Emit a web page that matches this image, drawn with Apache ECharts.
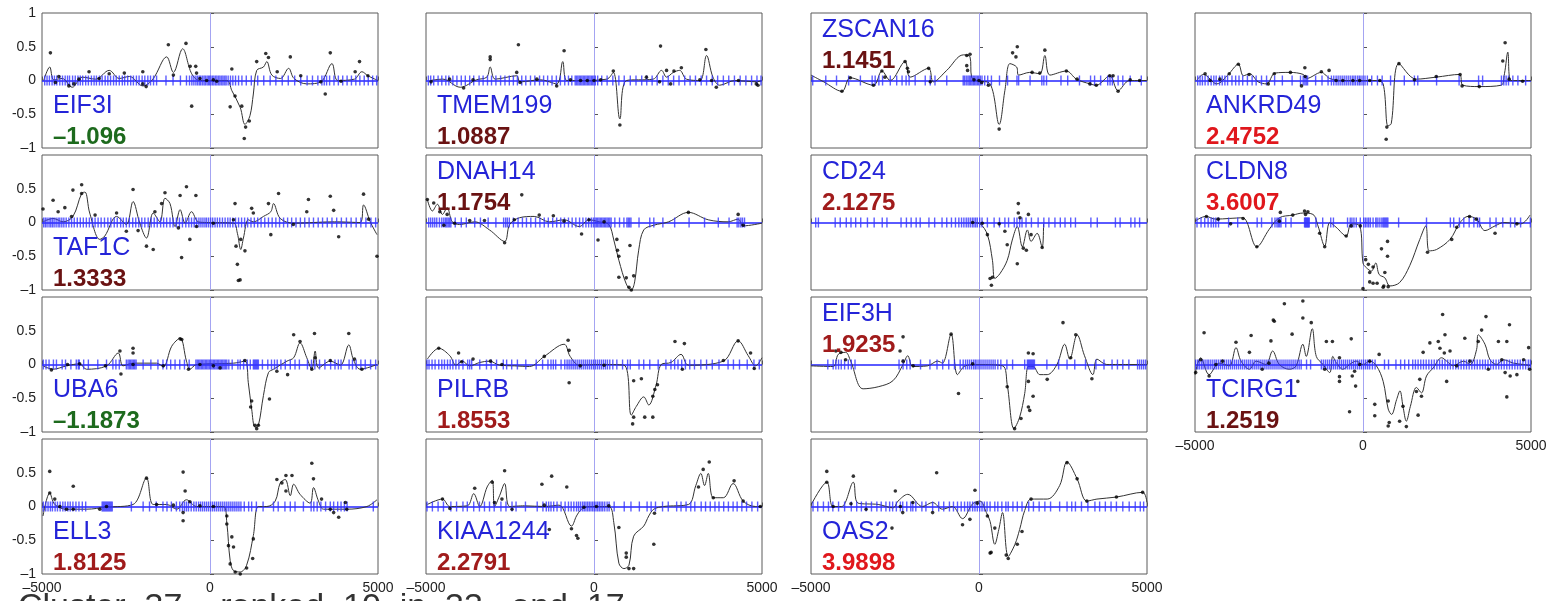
<!DOCTYPE html>
<html>
<head>
<meta charset="utf-8">
<script src="https://cdn.jsdelivr.net/npm/echarts@6/dist/echarts.min.js"></script>
<style>
  html, body { margin: 0; padding: 0; background: #fff; }
  #main { width: 1567px; height: 601px; }
</style>
</head>
<body>
<div id="main"></div>
<script>
// ---- data (x = distance in bp, y = score) ----
var xTicks = [-5000, 0, 5000];
var yTicks = [-1, -0.5, 0, 0.5, 1];

var eif3iDots = [[-4750,0.41],[-4600,-0.03],[-4500,0.06],[-4200,-0.08],[-4050,-0.05],[-3900,0.02],[-3600,0.13],[-3300,0.03],[-3000,0.1],[-2550,0.11],[-2000,0.13],[-2000,-0.05],[-1900,-0.09],[-1240,0.53],[-1090,0.08],[-715,0.55],[-545,-0.38],[-590,0.21],[-425,0.21],[-400,0.11],[-300,0.03],[-100,0],[100,0.01],[200,-0.01],[600,-0.39],[650,0.17],[745,-0.23],[945,-0.38],[1020,-0.86],[1060,-0.69],[1170,-0.6],[1390,0.28],[1660,0.4],[1740,0.34],[2000,0.13],[2390,0.35],[2700,0.07],[3300,-0.02],[3430,-0.2],[3580,0.41],[3900,-0.01],[4320,0.13],[4450,0.28],[4700,0.07]];
var eif3iCurve = [[-4950,0],[-4770,0.2],[-4650,0.01],[-4400,0.03],[-4100,-0.1],[-3800,0.05],[-3400,0.02],[-3000,0.15],[-2700,0.03],[-2400,0.06],[-2000,-0.08],[-1700,0.02],[-1290,0.35],[-1090,0.12],[-815,0.47],[-545,0.1],[-300,0],[500,0],[650,-0.15],[900,-0.4],[1040,-0.65],[1190,-0.52],[1290,-0.2],[1390,0.15],[1590,0.2],[1690,0.28],[1840,0.08],[2100,0.03],[2340,0.18],[2500,0.03],[2880,-0.05],[3300,-0.02],[3630,0.25],[3800,0],[4300,0.02],[4520,0.13],[4700,0.07],[5000,0]];
var eif3iRug = [-4920,-4850,-4780,-4700,-4630,-4560,-4470,-4390,-4310,-4240,-4180,-4090,-4010,-3930,-3860,-3790,-3700,-3620,-3530,-3450,-3380,-3290,-3210,-3120,-3040,-2960,-2870,-2790,-2700,-2610,-2540,-2450,-2360,-2280,-2190,-2110,-2020,-1940,-1850,-1770,-1680,-1590,-1310,-1100,-880,-700,-610,-540,-480,-420,-370,-320,-280,-230,-180,-140,-90,-50,-10,30,80,120,170,210,260,300,350,390,440,480,540,610,680,760,850,950,1080,1230,1420,1600,1790,1960,2150,2330,2520,2700,2890,3050,3210,3330,3400,3470,3560,3690,3820,3950,4080,4210,4340,4460,4590,4710,4840,4960];

var tmem199Dots = [[-4850,-0.02],[-4300,0.02],[-3880,-0.11],[-3600,0.01],[-3090,0.35],[-3090,0.31],[-2250,0.53],[-2300,0.12],[-2200,-0.03],[-1700,0.02],[-1110,-0.08],[-890,0.44],[-700,0.01],[-400,0],[-200,0],[0,0],[200,0.01],[575,0.14],[770,-0.66],[1560,0.05],[1980,0.51],[1950,-0.02],[2160,0.15],[2280,-0.05],[2380,0.14],[2600,0.19],[3150,0.01],[3330,0.46],[3500,0],[3640,-0.1],[4300,0],[4830,-0.05],[4880,-0.07]];
var tmem199Curve = [[-4870,0],[-4500,0.02],[-3980,-0.1],[-3500,0.01],[-3190,0.05],[-3090,0.2],[-2940,0.02],[-2300,0.07],[-2200,-0.02],[-1600,0.01],[-1110,-0.05],[-930,0.28],[-810,0],[-400,0],[380,0.02],[575,0.12],[770,-0.57],[970,0],[1760,0.02],[2010,0.15],[2160,0.05],[2360,0.12],[2550,0.15],[2750,0.02],[3150,0],[3350,0.37],[3540,0.05],[3740,-0.07],[4200,0],[4830,-0.02],[5000,0]];
var tmem199Rug = [-4930,-4860,-4770,-4640,-4530,-4410,-4320,-4200,-4080,-3950,-3830,-3700,-3580,-3420,-3300,-3170,-3050,-2920,-2780,-2650,-2520,-2400,-2280,-2150,-2030,-1890,-1760,-1620,-1500,-1380,-1250,-1120,-1000,-870,-760,-660,-560,-520,-480,-440,-400,-360,-320,-280,-240,-200,-160,-120,-80,-40,0,40,110,230,390,560,740,900,1080,1250,1420,1570,1730,1880,2050,2210,2370,2530,2700,2860,3020,3190,3350,3520,3680,3850,4010,4180,4350,4520,4690,4850,4970];

var zscan16Dots = [[-4080,-0.16],[-3830,0.04],[-3140,-0.07],[-2890,0.14],[-2800,0.05],[-2200,0.28],[-2130,0.18],[-2100,0.13],[-1500,0.18],[-1450,-0.02],[-365,0.37],[-267,0.39],[-365,0.22],[-340,0.15],[-150,0.01],[0,0],[80,-0.03],[280,-0.07],[600,-0.72],[1000,0.41],[1140,0.5],[1100,0.35],[1580,0.12],[1960,0.45],[1810,0.11],[2600,0.14],[2920,0.02],[3300,-0.05],[3490,-0.07],[3890,0.07],[3990,0.07],[4140,-0.16],[4500,0.01],[4780,0]];
var zscan16Curve = [[-5000,0.08],[-4620,-0.02],[-4080,-0.16],[-3830,0.04],[-3140,-0.07],[-2890,0.14],[-2640,0],[-2200,0.28],[-2050,0.05],[-1500,0.18],[-1360,-0.02],[-960,0.15],[-465,0.38],[-267,0.35],[-220,0.05],[-70,0],[330,-0.05],[600,-0.65],[770,-0.15],[920,0.25],[1120,0.2],[1180,0.08],[1510,0.12],[1810,0.1],[1960,0.37],[2110,0.08],[2600,0.14],[2900,0.02],[3300,-0.05],[3490,-0.07],[3890,0.07],[4140,-0.15],[4480,0],[5000,0]];
var zscan16Rug = [-4950,-4560,-4240,-3880,-3530,-3180,-3090,-2980,-2870,-2640,-2450,-2290,-2170,-2080,-1900,-1600,-1450,-1310,-960,-470,-430,-380,-330,-290,-250,-210,-170,-130,-90,-50,-10,40,90,170,260,370,610,850,1130,1180,1520,1870,1930,2010,2440,2640,2990,3320,3440,3620,3830,3900,3970,4140,4280,4500,4830];

var ankrd49Dots = [[-4700,0.1],[-4550,0],[-4260,0.02],[-3980,0.1],[-3710,0.24],[-3390,0.09],[-2820,-0.05],[-2640,0.1],[-2160,0.12],[-1830,-0.08],[-1730,0.19],[-1720,0.06],[-1240,0.13],[-1010,0.15],[-800,0],[-600,0],[-300,0],[-100,0],[200,0],[500,0],[710,-0.69],[690,-0.87],[1070,0.25],[1530,0.01],[2180,0.06],[2890,0.09],[2950,-0.08],[3460,-0.09],[4160,0.29],[4230,0.56],[4350,0.02],[4750,-0.01]];
var ankrd49Curve = [[-4950,0],[-4750,0.09],[-4350,-0.05],[-4010,0.09],[-3710,0.24],[-3560,0.07],[-3370,0.1],[-3120,-0.02],[-2870,-0.05],[-2620,0.11],[-2180,0.12],[-1780,0.09],[-1680,0.03],[-1240,0.12],[-990,0.03],[-600,0],[400,0],[600,-0.05],[740,-0.67],[840,-0.64],[1070,0.25],[1580,0.02],[2180,0.05],[2870,0.09],[2970,-0.07],[3460,-0.09],[4110,-0.07],[4210,0.1],[4310,0.42],[4400,0],[5000,0]];
var ankrd49Rug = [-4920,-4850,-4780,-4700,-4610,-4520,-4440,-4370,-4270,-4190,-4110,-4030,-3900,-3790,-3690,-3580,-3440,-3300,-3180,-3020,-2870,-2630,-2400,-2110,-1860,-1780,-1730,-1690,-1650,-1410,-1220,-1040,-940,-870,-800,-740,-680,-620,-560,-500,-440,-380,-320,-270,-220,-160,-110,-60,0,60,130,260,430,570,820,1230,1530,1630,2190,2860,3440,3560,4120,4190,4260,4330,4460,4610,4840];

var taf1cDots = [[-4970,0.2],[-4670,0.33],[-4520,0.16],[-4320,0.22],[-4120,0.09],[-4080,0.48],[-3820,0.56],[-3820,0.43],[-3420,0.11],[-2780,0.14],[-2490,-0.13],[-2290,0.49],[-2140,-0.12],[-1890,-0.35],[-1690,-0.4],[-1640,0.16],[-1440,0.28],[-1340,0.44],[-890,0.4],[-940,-0.08],[-845,-0.52],[-700,0.53],[-600,-0.25],[-420,0.4],[-400,-0.06],[100,-0.01],[700,0.04],[745,0.28],[775,-0.35],[845,-0.86],[895,-0.85],[815,-0.62],[915,-0.25],[1040,-0.42],[1240,0.21],[1290,0.14],[1740,0.28],[1810,-0.18],[2040,0.43],[2480,-0.03],[2880,0.16],[2930,0.34],[3580,0.39],[3680,0.18],[3830,-0.21],[4570,0.42],[4720,0.05],[4970,-0.5]];
var taf1cCurve = [[-4970,0.01],[-4670,0.06],[-4370,0.01],[-4080,0.09],[-3820,0.43],[-3720,0.45],[-3580,0.14],[-3280,-0.25],[-3130,-0.2],[-2780,0.09],[-2490,-0.03],[-2290,0.31],[-2090,-0.01],[-1890,-0.23],[-1690,0.14],[-1490,0.01],[-1340,0.36],[-1190,0.28],[-1040,-0.06],[-890,0.19],[-740,-0.01],[-550,0.16],[-350,0.01],[-100,0],[700,-0.01],[815,-0.16],[915,-0.4],[995,-0.23],[1140,0.04],[1290,0.01],[1590,0.09],[1810,0.16],[1890,0.28],[2090,0.06],[2490,-0.01],[3700,0.01],[4470,0],[4570,0.26],[4770,0.01],[4970,-0.18]];
var taf1cRug = [-4950,-4900,-4850,-4790,-4740,-4690,-4640,-4580,-4520,-4470,-4410,-4350,-4280,-4200,-4120,-4040,-3950,-3860,-3770,-3680,-3590,-3500,-3420,-3330,-3240,-3140,-3040,-2950,-2850,-2760,-2660,-2580,-2490,-2400,-2300,-2210,-2120,-2030,-1940,-1840,-1750,-1660,-1570,-1470,-1380,-1290,-1190,-1100,-1000,-910,-820,-720,-630,-550,-470,-400,-330,-270,-210,-150,-100,-40,20,80,150,220,290,370,450,530,600,680,760,850,940,1030,1120,1220,1320,1420,1520,1630,1740,1850,1960,2070,2190,2310,2430,2560,2690,2820,2950,3080,3220,3350,3490,3630,3770,3910,4060,4200,4350,4490,4640,4790,4930];

var dnah14Dots = [[-4960,0.34],[-4770,0.29],[-4590,0.16],[-4470,-0.04],[-4370,0.12],[-4150,-0.01],[-3700,0.03],[-3260,0.03],[-2660,-0.3],[-2370,0.04],[-2150,0.41],[-1630,0.11],[-1210,0.1],[-890,0.02],[-370,-0.17],[-150,0.04],[120,-0.26],[300,0.01],[680,-0.25],[700,-0.41],[740,-0.5],[740,-0.81],[960,-0.82],[1070,-0.34],[1040,-0.96],[1180,-0.79],[1110,-1],[2810,0.15],[4290,0.12],[4440,-0.04]];
var dnah14Curve = [[-4960,0.34],[-4810,0.17],[-4660,0.27],[-4510,0.12],[-4370,0.22],[-4220,0.01],[-4000,-0.03],[-3550,0.01],[-3110,-0.11],[-2660,-0.28],[-2510,-0.03],[-2220,0.07],[-1780,0.09],[-1330,0.01],[-890,0.04],[-440,-0.06],[-150,0.04],[150,0.01],[440,-0.03],[590,-0.26],[740,-0.56],[960,-0.91],[1110,-1],[1210,-0.88],[1330,-0.41],[1480,-0.11],[1780,-0.04],[2220,0.01],[2810,0.15],[3400,0.04],[3990,0.01],[4290,0.05],[4440,-0.05],[5000,-0.01]];
var dnah14Rug = [-4920,-4860,-4800,-4740,-4680,-4600,-4530,-4470,-4420,-4380,-4340,-4300,-4260,-4130,-3950,-3800,-3550,-3380,-3150,-2920,-2690,-2630,-2580,-2520,-2400,-2260,-2130,-2010,-1880,-1740,-1610,-1480,-1360,-1230,-1110,-990,-880,-760,-650,-540,-430,-330,-240,-160,-80,-20,30,70,110,150,190,230,270,310,350,390,430,470,510,620,760,890,980,1020,1060,1100,1340,1660,1780,2050,2400,2830,3290,3700,4020,4260,4310,4370,4420,4480];

var cd24Dots = [[-190,0],[100,-0.01],[250,-0.18],[330,-0.83],[400,-0.81],[370,-0.93],[600,-0.02],[840,-0.33],[770,-0.13],[1140,-0.61],[1170,0.28],[1170,0.14],[1220,0.07],[1320,-0.38],[1410,-0.41],[1470,0.12],[1550,-0.18],[1880,-0.37]];
var cd24Curve = [[-190,0],[30,-0.02],[250,-0.18],[400,-0.56],[470,-0.83],[620,-0.76],[840,-0.56],[990,-0.26],[1140,-0.06],[1290,-0.36],[1440,-0.11],[1550,-0.28],[1730,-0.16],[1880,-0.37],[1920,-0.02]];
var cd24Rug = [-4860,-4780,-4280,-4130,-3950,-3810,-3670,-3520,-3320,-3120,-2880,-2740,-2320,-2160,-2020,-1870,-1750,-1490,-1320,-1100,-960,-820,-700,-600,-520,-450,-380,-320,-260,-200,-150,-100,-50,20,90,250,450,610,770,880,1050,1130,1210,1280,1400,1560,1760,1930,2080,2260,2420,2560,2730,2870,3330,3520,4060,4200,4520,4640,4780];

var cldn8Dots = [[-4660,0.09],[-4310,0.05],[-3940,-0.02],[-3570,0.06],[-3160,-0.36],[-2490,0.02],[-2460,0.15],[-2090,0.11],[-1740,0.17],[-1710,0.12],[-1640,0.16],[-1290,-0.16],[-1140,-0.36],[-500,-0.2],[-350,-0.05],[-80,-0.05],[80,-0.55],[160,-0.62],[300,-0.66],[200,-0.74],[200,-0.88],[550,-0.39],[730,-0.5],[730,-0.28],[650,-0.74],[420,-0.9],[620,-0.94],[750,-0.95],[600,-0.96],[300,-0.9],[0,-0.98],[1920,-0.44],[2640,-0.25],[2790,-0.07],[3170,0.09],[3370,0.05],[3930,-0.16],[4580,-0.02]];
var cldn8Curve = [[-5000,0.02],[-4680,0.09],[-4380,0.05],[-3980,0.06],[-3580,0.07],[-3160,-0.36],[-2790,-0.1],[-2490,0.07],[-2090,0.11],[-1790,0.14],[-1490,0.12],[-1340,-0.05],[-1140,-0.35],[-990,0],[-800,-0.07],[-500,-0.2],[-350,-0.02],[-100,-0.05],[0,-0.6],[100,-0.67],[250,-0.72],[380,-0.6],[480,-0.77],[650,-0.82],[800,-0.94],[1090,-0.89],[1390,-0.64],[1690,-0.25],[1870,-0.05],[1970,-0.42],[2190,-0.4],[2590,-0.25],[2890,0],[3130,0.09],[3380,0.05],[3630,-0.12],[3930,-0.05],[4200,0],[4700,-0.02],[4970,0.11]];
var cldn8Rug = [-4940,-4820,-4710,-4610,-4520,-4450,-4380,-4300,-4000,-3730,-3150,-3020,-2710,-2620,-2560,-2520,-2480,-2440,-2300,-2140,-1740,-1720,-1700,-1680,-1660,-1640,-1620,-1600,-1400,-1200,-960,-880,-460,-380,-330,-270,-200,-80,20,70,120,170,220,300,380,420,480,540,590,620,650,680,710,740,1060,1890,2600,2700,2870,3000,3160,3300,3410,3470,3780,3960,4160,4390,4520,4690,4980];

var uba6Dots = [[-4720,-0.08],[-4240,0],[-3880,0.01],[-3110,-0.02],[-2680,0.2],[-2650,-0.14],[-2290,0.24],[-2290,0.17],[-2290,0],[-1390,-0.02],[-890,0.38],[-840,0.37],[-640,-0.07],[-300,0],[100,-0.02],[300,-0.05],[1040,0.06],[1240,-0.54],[1210,-0.63],[1340,-0.9],[1390,-0.95],[1440,-0.9],[1770,-0.51],[1990,-0.1],[2310,-0.15],[2490,0.44],[2680,0.34],[3030,-0.07],[3110,0.46],[3130,0.1],[3580,0.06],[4130,0.46],[4300,0.08],[4520,-0.07]];
var uba6Curve = [[-4970,-0.02],[-4670,-0.07],[-4270,-0.02],[-3880,0.01],[-3680,-0.07],[-3080,-0.02],[-2730,0.17],[-2590,-0.02],[-2290,0.02],[-1590,0.02],[-1390,-0.03],[-1140,0.27],[-890,0.39],[-700,0.05],[-600,-0.07],[-400,0],[700,0.02],[1040,0.05],[1140,-0.27],[1240,-0.66],[1340,-0.93],[1440,-0.9],[1590,-0.46],[1740,-0.12],[1890,-0.07],[2290,0.05],[2490,0.1],[2680,0.32],[2880,0.1],[3030,-0.07],[3130,0.2],[3230,-0.05],[3580,0.05],[3880,-0.01],[4130,0.29],[4270,0.07],[4470,-0.07],[4970,0]];
var uba6Rug = [-4960,-4880,-4790,-4660,-4570,-4400,-4300,-4140,-3980,-3920,-3890,-3760,-3620,-3340,-3080,-2890,-2800,-2700,-2490,-2440,-2400,-2360,-2320,-2280,-2240,-2200,-1990,-1760,-1550,-1400,-1290,-1170,-1040,-900,-760,-620,-420,-380,-340,-300,-260,-220,-180,-140,-100,-60,-20,20,60,100,140,180,220,260,300,340,380,420,460,500,560,660,830,900,1000,1110,1200,1290,1320,1350,1380,1410,1440,1560,1720,1830,1920,2000,2110,2240,2390,2530,2660,2900,3020,3120,3260,3420,3590,3720,3820,3900,4140,4240,4350,4490,4620,4780,4930];

var pilrbDots = [[-4620,0.24],[-4030,0.17],[-3940,0.04],[-3600,0.08],[-3080,0.05],[-2740,0],[-1480,0.12],[-770,0.36],[-740,0.21],[-740,-0.27],[-410,-0.02],[300,-0.01],[1180,-0.24],[1410,-0.21],[1180,-0.78],[1150,-0.88],[1510,-0.78],[1750,-0.78],[1890,-0.3],[1810,-0.37],[1750,-0.47],[2410,0.34],[2690,0.31],[2630,-0.07],[3850,0.06],[4290,0.35],[4660,0.17],[4770,-0.06]];
var pilrbCurve = [[-4960,0.08],[-4620,0.24],[-4290,0.13],[-4110,-0.01],[-3920,0.05],[-3700,-0.02],[-3400,0.03],[-3110,0.05],[-2810,-0.01],[-2370,-0.02],[-1920,-0.03],[-1480,0.12],[-890,0.3],[-710,0.12],[-440,-0.01],[150,0],[890,-0.01],[1110,-0.75],[1260,-0.62],[1480,-0.48],[1630,-0.6],[1850,-0.3],[2000,0],[2290,0.03],[2590,0.15],[2810,-0.01],[3850,0.05],[4290,0.35],[4590,0.13],[4810,-0.02],[5000,0.1]];
var pilrbRug = [-4970,-4910,-4820,-4730,-4620,-4530,-4450,-4360,-4280,-4200,-4110,-4020,-3900,-3760,-3700,-3640,-3400,-3200,-3060,-2900,-2700,-2600,-2450,-2280,-2030,-1720,-1530,-1370,-1280,-1210,-1140,-980,-870,-800,-740,-680,-620,-560,-500,-440,-380,-320,-260,-200,-140,-80,-20,40,100,160,220,280,340,400,470,560,680,850,1000,1080,1340,1480,1660,1910,2140,2290,2400,2500,2610,2720,2850,2990,3180,3350,3520,3720,3990,4150,4330,4560,4760,4920];

var eif3hDots = [[-4260,0.2],[-4110,0.18],[-3970,0.07],[-2260,0.05],[-1960,-0.02],[-2260,0.41],[-2350,0.2],[-830,0.45],[-610,-0.43],[-190,0.01],[840,-0.33],[1060,-0.95],[1250,-0.8],[1470,0.17],[1610,0.16],[1470,-0.63],[1510,-0.68],[1610,-0.47],[1470,-0.25],[2030,-0.22],[2500,0.62],[2880,0.44],[2730,0.1],[3360,-0.21]];
var eif3hCurve = [[-5000,-0.02],[-4340,-0.03],[-4190,0.15],[-3970,0.18],[-3820,0.05],[-3450,-0.36],[-3000,-0.33],[-2560,-0.24],[-2260,0],[-2120,0.13],[-1970,-0.03],[-1530,-0.02],[-1230,0.05],[-1090,0.02],[-830,0.45],[-640,-0.15],[-410,-0.02],[0,0],[700,-0.02],[840,-0.3],[1040,-0.95],[1210,-0.78],[1360,-0.43],[1470,-0.03],[1610,-0.03],[1810,-0.15],[2030,-0.15],[2320,0],[2550,0.3],[2700,0.08],[2920,0.44],[3140,0.13],[3390,-0.15],[3510,0.08],[3800,0],[5000,0]];
var eif3hRug = [-4500,-4340,-4260,-4180,-4100,-4000,-3890,-3800,-3690,-2380,-2260,-2150,-2050,-1740,-1460,-1250,-1080,-900,-730,-560,-470,-400,-340,-280,-220,-160,-110,-60,0,60,120,180,240,300,360,420,480,560,650,830,1000,1360,1440,1470,1500,1530,1560,1590,1620,1650,2020,2370,2620,2850,3170,3480,3720,3960,4120,4280,4460,4720,4780,4840,4900,4960];

var tcirg1Dots = [[-4730,0.47],[-4980,-0.12],[-4830,0.07],[-4580,-0.17],[-4380,0],[-4180,0.05],[-3780,0.33],[-3380,0.18],[-3330,0.43],[-3000,-0.07],[-2800,0.02],[-2740,0.35],[-2670,0.66],[-2640,0.64],[-2340,0.9],[-2110,0.45],[-1940,-0.25],[-1790,0.94],[-1790,0.69],[-1540,0.62],[-1090,0.34],[-910,0.34],[-1140,-0.07],[-700,0.1],[-700,-0.18],[-700,-0.25],[-350,0.38],[-400,-0.7],[-250,-0.1],[-220,-0.32],[-320,-0.17],[-100,0],[200,0.05],[480,0.15],[350,-0.59],[350,-0.76],[750,-0.54],[780,-0.86],[750,-0.91],[1090,-0.84],[1290,-0.92],[1190,-0.62],[1590,-0.4],[1640,-0.75],[1690,-0.22],[1740,-0.47],[1790,0.18],[1990,0.32],[2240,0.34],[2290,0.24],[2370,0.74],[2440,0.44],[2420,0.17],[2490,-0.25],[2590,0.2],[2790,-0.02],[3030,0.39],[3180,0.05],[3430,0.34],[3530,0.51],[3660,0.71],[3730,-0.07],[4030,0.34],[4130,0.07],[4230,-0.12],[4280,0.34],[4280,-0.48],[4360,0.59],[4380,-0.17],[4580,-0.15],[4780,0.07],[4930,0.25],[4960,-0.07]];
var tcirg1Curve = [[-5000,-0.15],[-4830,0.1],[-4580,-0.15],[-4280,0.02],[-3980,-0.02],[-3780,0.25],[-3630,0.05],[-3380,-0.07],[-3180,0.05],[-2890,0],[-2690,0.2],[-2490,0],[-2190,-0.07],[-1990,-0.02],[-1790,0.3],[-1690,0.12],[-1510,0.53],[-1390,0.12],[-1190,0],[-990,-0.12],[-900,0.12],[-800,0.03],[-600,-0.07],[-400,0],[-200,0.05],[0,0],[200,0.05],[400,-0.02],[600,-0.25],[750,-0.66],[850,-0.74],[1000,-0.52],[1100,-0.39],[1190,-0.62],[1290,-0.84],[1410,-0.62],[1590,-0.34],[1740,-0.42],[1890,-0.17],[2090,-0.05],[2340,0.1],[2490,0.05],[2690,-0.02],[2990,0.05],[3190,0],[3380,0.22],[3430,0.44],[3630,0.3],[3780,0.07],[3980,0],[4180,0.07],[4480,0.02],[4780,0],[5000,-0.02]];
var tcirg1Rug = [-4980,-4920,-4870,-4810,-4760,-4700,-4640,-4590,-4530,-4470,-4410,-4360,-4300,-4240,-4180,-4120,-4060,-4000,-3940,-3880,-3820,-3760,-3700,-3640,-3580,-3520,-3460,-3400,-3340,-3280,-3220,-3160,-3100,-3040,-2980,-2920,-2860,-2800,-2740,-2680,-2620,-2560,-2500,-2440,-2380,-2320,-2260,-2200,-2140,-2080,-2020,-1960,-1900,-1840,-1680,-1560,-1240,-1180,-1120,-1060,-1000,-940,-880,-820,-760,-700,-640,-580,-520,-460,-400,-340,-280,-220,-160,-100,-40,20,80,140,200,280,360,640,760,980,1120,1240,1360,1480,1560,1640,1720,1800,1880,1960,2040,2120,2200,2280,2360,2440,2520,2600,2680,2760,2840,2920,3000,3080,3160,3240,3320,3400,3480,3560,3640,3720,3800,3880,3960,4040,4120,4200,4280,4360,4440,4520,4600,4680,4760,4840,4920,4980];

var ell3Dots = [[-4770,0.52],[-4770,0.2],[-4620,0.11],[-4470,0],[-4270,-0.04],[-4070,0.3],[-4070,-0.04],[-3280,-0.04],[-3080,0],[-1890,0.42],[-1590,0.03],[-1090,0.02],[-800,0.51],[-740,0.23],[-800,-0.09],[-800,-0.21],[-600,0.07],[-300,0.01],[100,0],[500,-0.14],[500,-0.26],[550,-0.58],[650,-0.45],[600,-0.85],[700,-0.6],[750,-0.97],[900,-1],[1090,-0.91],[1270,-0.77],[1290,-0.48],[1990,0.4],[2140,0.35],[2260,0.46],[2260,0.23],[2440,0.46],[3030,0.64],[3080,0.41],[3320,0.11],[3580,-0.04],[3680,-0.09],[3830,-0.16],[4030,0.06],[4070,-0.04]];
var ell3Curve = [[-4970,-0.14],[-4770,0.2],[-4620,0.03],[-4270,-0.04],[-3680,-0.04],[-3080,-0.01],[-2290,0.03],[-1890,0.42],[-1690,0.03],[-1290,0.03],[-990,-0.04],[-700,0.1],[-400,0],[400,0],[500,-0.24],[600,-0.8],[700,-0.95],[900,-0.97],[1090,-0.87],[1290,-0.43],[1440,0],[1690,0],[1940,0.08],[2090,0.35],[2240,0.4],[2390,0.16],[2490,0.33],[2680,0.18],[2980,0.05],[3080,0.28],[3230,0.08],[3380,-0.04],[4070,-0.04],[4670,0],[4970,0.1]];
var ell3Rug = [-4960,-4890,-4820,-4750,-4690,-4610,-4540,-4460,-4380,-4310,-4230,-4160,-4080,-3990,-3900,-3800,-3700,-3210,-3180,-3150,-3120,-3090,-3060,-3030,-3000,-2970,-2940,-2910,-2340,-1990,-1800,-1600,-1400,-1280,-1150,-1000,-900,-820,-760,-700,-640,-560,-480,-410,-340,-280,-220,-160,-100,-40,20,80,140,200,260,320,380,440,500,560,620,680,740,800,860,920,1020,1150,1240,1380,1580,1890,2030,2230,2390,2530,2780,3010,3090,3190,3300,3440,3580,3680,3800,3900,4000,4080,4860];

var kiaa1244Dots = [[-4510,0.11],[-4290,-0.03],[-3550,0.27],[-3030,0.36],[-2960,0.06],[-2660,0.53],[-2740,0.11],[-2440,-0.04],[-1550,0.33],[-1260,0.45],[-1330,-0.34],[-1480,0.02],[-810,0.29],[-670,-0.33],[-520,-0.43],[-480,-0.47],[-300,-0.01],[70,0],[440,0.01],[740,-0.31],[960,-0.69],[960,-0.75],[1040,-0.92],[1180,-0.92],[1780,-0.56],[1800,-0.1],[3110,0.29],[3250,0.55],[3430,0.66],[3550,0.13],[4170,0.38],[4440,0.08],[4950,0]];
var kiaa1244Curve = [[-4960,0.03],[-4510,0.11],[-4290,0],[-3770,0.01],[-3580,0.19],[-3400,0],[-3180,0.29],[-3030,0.39],[-2960,0],[-2810,0.16],[-2660,0.34],[-2510,0],[-2070,0.01],[-1480,0],[-1040,0.02],[-670,-0.29],[-520,-0.14],[-370,-0.04],[-150,0],[440,0],[590,-0.24],[740,-0.84],[890,-0.92],[1040,-0.87],[1180,-0.44],[1480,-0.29],[1630,-0.14],[1780,-0.04],[2070,0],[2810,0.03],[3030,0.31],[3180,0.49],[3290,0.31],[3400,0.49],[3550,0.13],[3850,0.13],[4140,0.34],[4440,0.08],[4810,0],[5000,0]];
var kiaa1244Rug = [-4970,-4810,-4640,-4480,-4260,-4090,-3900,-3770,-3580,-3410,-3260,-3110,-2970,-2770,-2620,-2440,-2320,-2040,-1690,-1520,-1420,-1350,-1280,-1200,-1100,-980,-860,-760,-680,-600,-520,-460,-400,-340,-290,-240,-190,-140,-90,-40,10,60,110,160,210,260,320,390,450,600,900,1100,1350,1580,1700,1830,2040,2210,2460,2590,2740,2880,3000,3190,3320,3460,3600,3720,3860,4000,4140,4260,4400,4540,4700,4870];

var oas2Dots = [[-4530,0.52],[-4530,0.36],[-4340,0],[-3740,0.45],[-3810,0.04],[-3360,-0.04],[-2490,0.23],[-2340,0],[-2270,-0.09],[-1970,0.06],[-1260,0.5],[-1380,-0.09],[-490,-0.27],[-270,-0.19],[-120,0.24],[-50,0.05],[250,-0.14],[330,-0.69],[360,-0.68],[470,-0.32],[810,-0.72],[870,-0.77],[1140,-0.56],[1280,-0.37],[1550,0.11],[2620,0.65],[2920,0.41],[3210,0.08],[4090,0.14],[4870,0.21],[-2590,-0.32]];
var oas2Curve = [[-4990,0.03],[-4530,0.36],[-4350,0],[-4090,0],[-3740,0.36],[-3600,0.05],[-3000,0.03],[-2560,-0.02],[-2410,0.08],[-2120,0.18],[-1680,0],[-1380,0.06],[-1090,-0.04],[-790,0],[-490,-0.18],[-190,0.04],[30,0.08],[220,-0.09],[330,-0.22],[470,-0.56],[590,-0.34],[700,-0.09],[870,-0.74],[1070,-0.56],[1210,-0.34],[1360,-0.06],[1550,0.11],[2030,0.11],[2400,0.31],[2620,0.66],[2920,0.41],[3210,0.08],[3510,0.11],[4090,0.14],[4870,0.21],[5000,0.06]];
var oas2Rug = [-4940,-4800,-4630,-4480,-4350,-4180,-4000,-3800,-3640,-3500,-3360,-3200,-3040,-2910,-2770,-2660,-2570,-2460,-2340,-2270,-2150,-2030,-1970,-1880,-1700,-1580,-1380,-1200,-1050,-880,-760,-640,-530,-430,-340,-270,-190,-120,-50,20,90,160,240,330,470,560,680,800,870,1010,1140,1280,1480,1620,1790,1960,2130,2400,2620,2760,2870,3050,3240,3450,3590,3760,3930,4090,4280,4470,4650,4800,4900];

var geneNames = ['EIF3I','TMEM199','ZSCAN16','ANKRD49','TAF1C','DNAH14','CD24','CLDN8','UBA6','PILRB','EIF3H','TCIRG1','ELL3','KIAA1244','OAS2'];
var geneScores = ['\u20131.096','1.0887','1.1451','2.4752','1.3333','1.1754','2.1275','3.6007','\u20131.1873','1.8553','1.9235','1.2519','1.8125','2.2791','3.9898'];

// ---- layout / style ----
var colLeft = [42, 426, 811, 1195];
var rowTop = [13, 155, 297, 439];
var panelW = 336, panelH = 135;
var fontFam = '"Liberation Sans", Arial, Helvetica, sans-serif';

var GREEN = '#1d6a1d', DARK = '#6a1212', MID = '#a01b1b', BRIGHT = '#e0171c';

var panels = [
  {col:0,row:0,pos:'bottom',color:GREEN, dots:eif3iDots,curve:eif3iCurve,rug:eif3iRug},
  {col:1,row:0,pos:'bottom',color:DARK,  dots:tmem199Dots,curve:tmem199Curve,rug:tmem199Rug},
  {col:2,row:0,pos:'top',   color:DARK,  dots:zscan16Dots,curve:zscan16Curve,rug:zscan16Rug},
  {col:3,row:0,pos:'bottom',color:BRIGHT,dots:ankrd49Dots,curve:ankrd49Curve,rug:ankrd49Rug},
  {col:0,row:1,pos:'bottom',color:DARK,  dots:taf1cDots,curve:taf1cCurve,rug:taf1cRug},
  {col:1,row:1,pos:'top',   color:DARK,  dots:dnah14Dots,curve:dnah14Curve,rug:dnah14Rug},
  {col:2,row:1,pos:'top',   color:MID,   dots:cd24Dots,curve:cd24Curve,rug:cd24Rug},
  {col:3,row:1,pos:'top',   color:BRIGHT,dots:cldn8Dots,curve:cldn8Curve,rug:cldn8Rug},
  {col:0,row:2,pos:'bottom',color:GREEN, dots:uba6Dots,curve:uba6Curve,rug:uba6Rug},
  {col:1,row:2,pos:'bottom',color:MID,   dots:pilrbDots,curve:pilrbCurve,rug:pilrbRug},
  {col:2,row:2,pos:'top',   color:MID,   dots:eif3hDots,curve:eif3hCurve,rug:eif3hRug},
  {col:3,row:2,pos:'bottom',color:DARK,  dots:tcirg1Dots,curve:tcirg1Curve,rug:tcirg1Rug},
  {col:0,row:3,pos:'bottom',color:MID,   dots:ell3Dots,curve:ell3Curve,rug:ell3Rug},
  {col:1,row:3,pos:'bottom',color:MID,   dots:kiaa1244Dots,curve:kiaa1244Curve,rug:kiaa1244Rug},
  {col:2,row:3,pos:'bottom',color:BRIGHT,dots:oas2Dots,curve:oas2Curve,rug:oas2Rug}
];

var grids = [], xAxes = [], yAxes = [], series = [], texts = [];

panels.forEach(function (p, i) {
  var left = colLeft[p.col], top = rowTop[p.row];
  var isBottom = (p.row === 3) || (p.col === 3 && p.row === 2);
  var showY = p.col === 0;

  grids.push({left: left, top: top, width: panelW, height: panelH,
    show: true, borderColor: '#5a5a5a', borderWidth: 1, backgroundColor: 'transparent'});

  xAxes.push({type: 'value', gridIndex: i, min: xTicks[0], max: xTicks[2], interval: 5000,
    axisLine: {show: false}, splitLine: {show: false},
    axisTick: {show: true, inside: true, length: 4, lineStyle: {color: '#555'}},
    axisLabel: {show: isBottom, fontSize: 14, color: '#222', fontFamily: fontFam, margin: 7,
      formatter: function (v) { return v < 0 ? '\u2013' + Math.abs(v) : String(v); }}});

  yAxes.push({type: 'value', gridIndex: i, min: yTicks[0], max: yTicks[4], interval: 0.5,
    axisLine: {show: false}, splitLine: {show: false},
    axisTick: {show: true, inside: true, length: 4, lineStyle: {color: '#555'}},
    axisLabel: {show: showY, fontSize: 14, color: '#222', fontFamily: fontFam, margin: 6,
      formatter: function (v) {
        if (v === 1 && p.row > 0) return '';
        if (v === -1) return '\u20131';
        return String(v);
      }}});

  // zero reference lines + rug of probe positions
  series.push({type: 'scatter', xAxisIndex: i, yAxisIndex: i, silent: true, z: 3,
    symbol: 'rect', symbolSize: [1.4, 10],
    itemStyle: {color: '#3535ff'},
    data: p.rug.map(function (x) { return [x, 0]; }),
    markLine: {silent: true, symbol: 'none', label: {show: false}, z: 1,
      data: [
        {xAxis: 0, lineStyle: {color: '#a4a4f2', width: 1, type: 'solid'}},
        {yAxis: 0, lineStyle: {color: '#2323ff', width: 1.6, type: 'solid'}}
      ]}});

  series.push({type: 'line', xAxisIndex: i, yAxisIndex: i, silent: true, z: 2,
    smooth: 0.35, showSymbol: false, data: p.curve,
    lineStyle: {color: '#333', width: 1}});

  series.push({type: 'scatter', xAxisIndex: i, yAxisIndex: i, silent: true, z: 4,
    symbolSize: 3.6, itemStyle: {color: '#000'}, data: p.dots});

  var nameY = p.pos === 'top' ? top + 19 : top + 95;
  texts.push({type: 'text', left: left + 11, top: nameY - 14, z: 10,
    style: {text: geneNames[i], fill: '#2424d8', font: '25px ' + fontFam}});
  texts.push({type: 'text', left: left + 11, top: nameY + 17, z: 10,
    style: {text: geneScores[i], fill: p.color, font: 'bold 24px ' + fontFam}});
});

texts.push({type: 'text', left: 18, top: 591, z: 10,
  style: {text: 'Cluster  37,   ranked  10  in  33   and  17', fill: '#333', font: '34px ' + fontFam}});

var chart = echarts.init(document.getElementById('main'));
chart.setOption({
  animation: false,
  backgroundColor: '#fff',
  grid: grids,
  xAxis: xAxes,
  yAxis: yAxes,
  series: series,
  graphic: texts
});
</script>
</body>
</html>
